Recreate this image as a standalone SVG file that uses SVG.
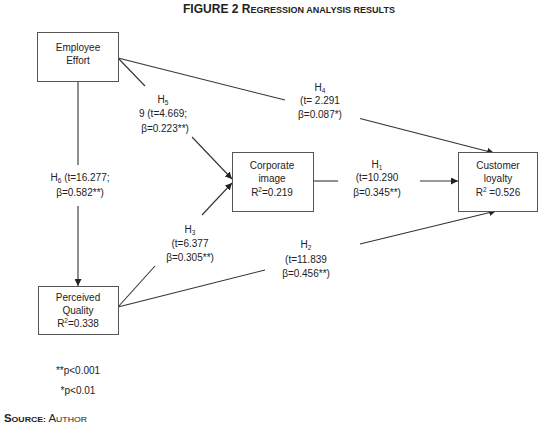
<svg xmlns="http://www.w3.org/2000/svg" width="546" height="433" viewBox="0 0 546 433">
<style>
  text { font-family: "Liberation Sans", Arial, sans-serif; fill: #222; }
  .lbl { font-size: 10px; text-anchor: middle; }
  .box { fill: #fff; stroke: #555; stroke-width: 1; }
  .ln { stroke: #333; stroke-width: 1.1; fill: none; }
  .arr { stroke: #333; stroke-width: 1.1; fill: none; marker-end: url(#ah); }
  .sub { font-size: 6.5px; }
</style>
<defs>
  <marker id="ah" viewBox="0 0 10 10" refX="10" refY="5" markerWidth="7" markerHeight="7" markerUnits="userSpaceOnUse" orient="auto">
    <path d="M0,0 L10,5 L0,10 z" fill="#222"/>
  </marker>
</defs>
<rect width="546" height="433" fill="#fff"/>

<text x="289" y="13" font-weight="bold" text-anchor="middle" font-size="12" textLength="212" lengthAdjust="spacingAndGlyphs" fill="#111">FIGURE 2 R<tspan font-size="9">EGRESSION ANALYSIS RESULTS</tspan></text>

<g id="connectors">
  <!-- H6 vertical -->
  <line class="ln" x1="78" y1="81" x2="78" y2="165"/>
  <line class="arr" x1="78" y1="206" x2="78" y2="286"/>
  <!-- H4 -->
  <line class="ln" x1="118" y1="58" x2="285" y2="100"/>
  <line class="arr" x1="360" y1="118.5" x2="494" y2="153"/>
  <!-- H5 -->
  <line class="ln" x1="118" y1="58" x2="145" y2="86"/>
  <line class="arr" x1="192" y1="137" x2="232" y2="179"/>
  <!-- H3 -->
  <line class="ln" x1="118" y1="307" x2="155" y2="266"/>
  <line class="arr" x1="202" y1="215" x2="232" y2="183"/>
  <!-- H2 -->
  <line class="ln" x1="118" y1="307" x2="265" y2="270"/>
  <line class="arr" x1="360" y1="244" x2="496" y2="211"/>
  <!-- H1 -->
  <line class="ln" x1="313" y1="181" x2="338" y2="181"/>
  <line class="arr" x1="420" y1="181" x2="458" y2="181"/>
</g>

<g id="labels">
  <text class="lbl" x="80" y="181">H<tspan class="sub" dy="1.5">6</tspan><tspan dy="-1.5"> (t=16.277;</tspan></text>
  <text class="lbl" x="80" y="196">β=0.582**)</text>

  <text class="lbl" x="320" y="91">H<tspan class="sub" dy="1.5">4</tspan></text>
  <text class="lbl" x="320" y="104">(t= 2.291</text>
  <text class="lbl" x="320" y="118">β=0.087*)</text>

  <text class="lbl" x="163" y="103">H<tspan class="sub" dy="1.5">5</tspan></text>
  <text class="lbl" x="163" y="117">9 (t=4.669;</text>
  <text class="lbl" x="165" y="132">β=0.223**)</text>

  <text class="lbl" x="190" y="233">H<tspan class="sub" dy="1.5">3</tspan></text>
  <text class="lbl" x="190" y="247">(t=6.377</text>
  <text class="lbl" x="190" y="261">β=0.305**)</text>

  <text class="lbl" x="306" y="248">H<tspan class="sub" dy="1.5">2</tspan></text>
  <text class="lbl" x="306" y="263">(t=11.839</text>
  <text class="lbl" x="306" y="277">β=0.456**)</text>

  <text class="lbl" x="377" y="168">H<tspan class="sub" dy="1.5">1</tspan></text>
  <text class="lbl" x="377" y="181">(t=10.290</text>
  <text class="lbl" x="377" y="196">β=0.345**)</text>
</g>

<g id="employee-effort">
  <rect class="box" x="37.5" y="32.5" width="81" height="49"/>
  <text class="lbl" x="78" y="51">Employee</text>
  <text class="lbl" x="78" y="64">Effort</text>
</g>

<g id="corporate-image">
  <rect class="box" x="232.5" y="152.5" width="81" height="59"/>
  <text class="lbl" x="272" y="169">Corporate</text>
  <text class="lbl" x="272" y="182">image</text>
  <text class="lbl" x="272" y="196">R<tspan class="sub" dy="-4">2</tspan><tspan dy="4">=0.219</tspan></text>
</g>

<g id="customer-loyalty">
  <rect class="box" x="458.5" y="152.5" width="79" height="59"/>
  <text class="lbl" x="498" y="169">Customer</text>
  <text class="lbl" x="498" y="182">loyalty</text>
  <text class="lbl" x="498" y="196">R<tspan class="sub" dy="-4">2</tspan><tspan dy="4"> =0.526</tspan></text>
</g>

<g id="perceived-quality">
  <rect class="box" x="38.5" y="286.5" width="80" height="48"/>
  <text class="lbl" x="78" y="301">Perceived</text>
  <text class="lbl" x="78" y="314">Quality</text>
  <text class="lbl" x="78" y="327">R<tspan class="sub" dy="-4">2</tspan><tspan dy="4">=0.338</tspan></text>
</g>

<text class="lbl" x="78" y="374">**p&lt;0.001</text>
<text class="lbl" x="78" y="394">*p&lt;0.01</text>

<text x="4" y="422" font-size="10.5" textLength="83" lengthAdjust="spacingAndGlyphs"><tspan font-weight="bold">S</tspan><tspan font-weight="bold" font-size="8">OURCE:</tspan> A<tspan font-size="8">UTHOR</tspan></text>
</svg>
